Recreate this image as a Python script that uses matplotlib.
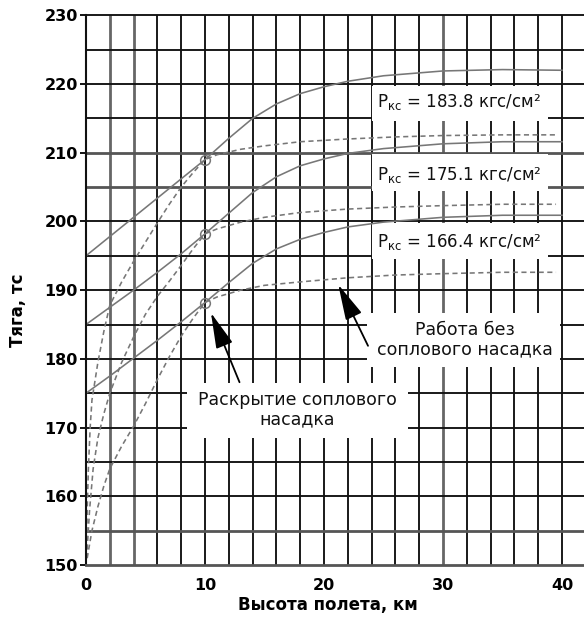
import matplotlib
matplotlib.use('Agg')
import matplotlib.pyplot as plt
from matplotlib.patches import Rectangle

plt.rcParams['font.family'] = ['DejaVu Sans']

# ---- data ----
altitude_solid = [0, 2, 4, 6, 8, 10, 12, 14, 16, 18, 20, 22, 25, 30, 35, 40]
thrust_solid_183 = [195, 197.8, 200.6, 203.4, 206.2, 209.0, 212.1, 215.0, 217.1, 218.6, 219.6, 220.4, 221.2, 221.9, 222.1, 222.0]
thrust_solid_175 = [185, 187.5, 190.0, 192.6, 195.3, 198.2, 201.2, 204.2, 206.5, 208.1, 209.1, 209.9, 210.6, 211.3, 211.6, 211.6]
thrust_solid_166 = [175, 177.5, 180.1, 182.7, 185.4, 188.2, 191.1, 193.9, 196.0, 197.4, 198.4, 199.2, 199.9, 200.6, 200.9, 200.9]

altitude_dash_183 = [0.03, 0.1, 0.2, 0.35, 0.5, 1.0, 1.5, 2.0, 3.0, 4.0, 5.0, 6.0, 7.0, 8.0, 9.0, 10.0,
                     11, 13, 15, 18, 22, 26, 30, 35, 39.5]
thrust_dash_183 = [151, 158, 164, 170, 174, 179.5, 184, 187.8, 191.2, 194.2, 197, 199.8, 202.5, 205, 207.1, 209.0,
                   209.7, 210.5, 211.0, 211.6, 212.0, 212.3, 212.5, 212.6, 212.6]
altitude_dash_175 = [0.05, 0.3, 0.6, 1.0, 1.5, 2.0, 3.0, 4.0, 5.0, 6.0, 7.0, 8.0, 9.0, 10.0,
                     11, 13, 15, 18, 22, 26, 30, 35, 39.5]
thrust_dash_175 = [151, 158, 164, 168.5, 172, 175, 179.5, 183.2, 186.5, 189.1, 191.3, 193.6, 196.0, 198.2,
                   198.9, 199.9, 200.6, 201.3, 201.8, 202.1, 202.3, 202.5, 202.5]
altitude_dash_166 = [0.1, 0.5, 1.0, 1.5, 2.0, 3.0, 4.0, 5.0, 6.0, 7.0, 8.0, 9.0, 10.0,
                     11, 13, 15, 18, 22, 26, 30, 35, 39.5]
thrust_dash_166 = [151, 155, 158.5, 161.5, 164, 167.3, 170.2, 173.5, 177, 180.3, 183.3, 185.9, 188.2,
                   189.0, 190.0, 190.7, 191.2, 191.8, 192.2, 192.4, 192.6, 192.6]

deploy_altitude = [10.0, 10.0, 10.0]
deploy_thrust = [209.0, 198.2, 188.2]

pressure_labels = ['183.8', '175.1', '166.4']
x_ticks = [0, 10, 20, 30, 40]
y_ticks = [150, 160, 170, 180, 190, 200, 210, 220, 230]

# ---- figure ----
fig = plt.figure(figsize=(5.84, 6.21), dpi=100)
ax = fig.add_axes([86 / 584, 56 / 621, 498 / 584, 549.7 / 621])
ax.set_xlim(0, 41.85)
ax.set_ylim(150, 230)

grid_c = '#111111'
thick_x = [2, 4, 30]
thick_y = [155, 205, 210]
for gx in range(2, 41, 2):
    if gx in thick_x:
        ax.axvline(gx, color='#666666', lw=2.0, zorder=0.5)
    else:
        ax.axvline(gx, color=grid_c, lw=1.35, zorder=0.5)
for gy in range(155, 231, 5):
    if gy in thick_y:
        ax.axhline(gy, color='#555555', lw=2.0, zorder=0.5)
    else:
        ax.axhline(gy, color=grid_c, lw=1.35, zorder=0.5, clip_on=False)

for s in ['right', 'top']:
    ax.spines[s].set_visible(False)
ax.spines['left'].set_color('#111111')
ax.spines['left'].set_linewidth(1.5)
ax.spines['bottom'].set_color('#555555')
ax.spines['bottom'].set_linewidth(2.0)

# white label masks
mask_kw = dict(facecolor='white', edgecolor='none', zorder=1)
for y0, y1 in [(214.6, 219.75), (204.4, 209.75), (194.6, 199.75)]:
    ax.add_patch(Rectangle((24.0, y0), 14.8, y1 - y0, **mask_kw))
ax.add_patch(Rectangle((23.6, 178.8), 16.2, 7.9, **mask_kw))
ax.add_patch(Rectangle((8.5, 168.5), 18.6, 8.0, **mask_kw))

curve_c = '#777777'
for ys in [thrust_solid_183, thrust_solid_175, thrust_solid_166]:
    ax.plot(altitude_solid, ys, color=curve_c, lw=1.15, zorder=2)
for xs, ys in [(altitude_dash_183, thrust_dash_183),
               (altitude_dash_175, thrust_dash_175),
               (altitude_dash_166, thrust_dash_166)]:
    ax.plot(xs, ys, color=curve_c, lw=1.15, dashes=(3.2, 2.2), zorder=2)
ax.plot(deploy_altitude, deploy_thrust, 'o', ms=7, mfc='none', mec=curve_c, mew=1.1, zorder=3)

# pressure labels
for lab, yb in zip(pressure_labels, [216.65, 206.05, 196.3]):
    ax.text(24.45, yb, r'$\mathregular{P_{кс}}$ = ' + lab + ' кгс/см²',
            fontsize=12, va='baseline', ha='left', zorder=4, color='#111111')

ax.text(17.73, 172.6, 'Раскрытие соплового\nнасадка', fontsize=12.5, ha='center', va='center',
        linespacing=1.05, zorder=4, color='#111111')
ax.text(31.85, 182.8, 'Работа без\nсоплового насадка', fontsize=12.5, ha='center', va='center',
        linespacing=1.05, zorder=4, color='#111111')

arrow_kw = dict(arrowstyle='-|>,head_length=1.3,head_width=0.32', color='black', lw=1.3,
                mutation_scale=17, shrinkA=0, shrinkB=0)
ax.annotate('', xy=(10.5, 186.7), xytext=(12.9, 176.6), arrowprops=arrow_kw, zorder=5)
ax.annotate('', xy=(21.2, 190.8), xytext=(23.7, 181.9), arrowprops=arrow_kw, zorder=5)

ax.set_xticks(x_ticks)
ax.set_yticks(y_ticks)
ax.set_xticklabels([str(v) for v in x_ticks])
ax.set_yticklabels([str(v) for v in y_ticks])
ax.tick_params(axis='y', length=4, width=1.3, pad=2, labelsize=11.5)
ax.tick_params(axis='x', length=0, pad=9, labelsize=11.5)
for lbl in ax.get_xticklabels() + ax.get_yticklabels():
    lbl.set_fontweight('bold')

fig.text(18 / 584, 1 - 310 / 621, 'Тяга, тс', rotation=90, ha='center', va='center',
         fontsize=12, fontweight='bold')
fig.text(328 / 584, 1 - 605 / 621, 'Высота полета, км', ha='center', va='center',
         fontsize=12, fontweight='bold')

fig.savefig('out.png', dpi=100)
